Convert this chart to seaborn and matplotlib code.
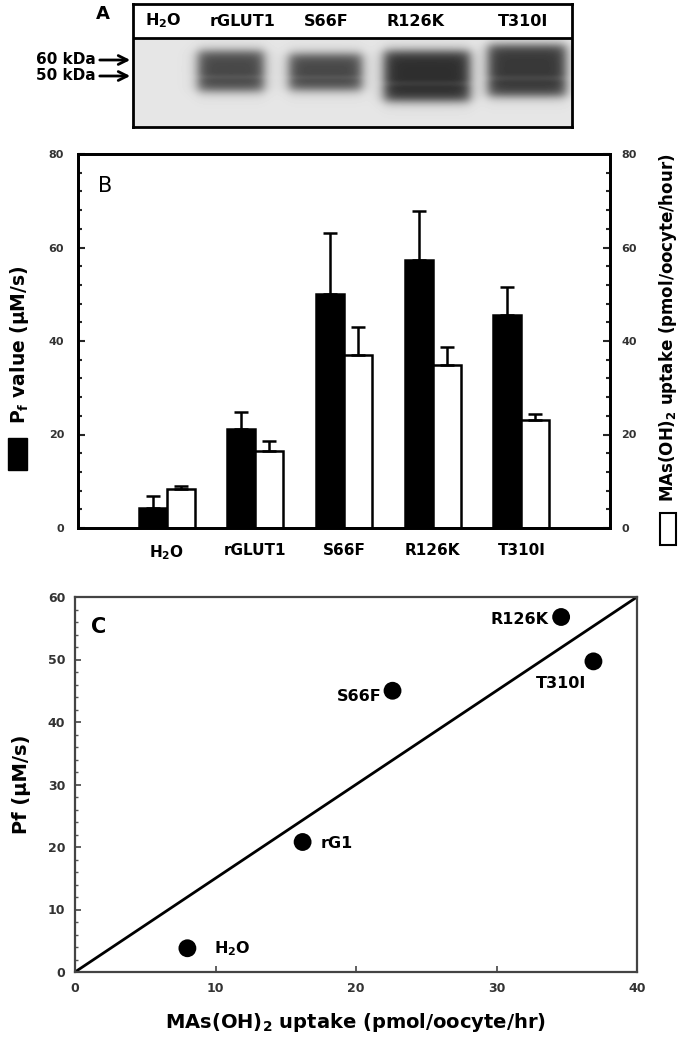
import numpy as np
import pandas as pd
import matplotlib
matplotlib.use("Agg")
import matplotlib.pyplot as plt
import seaborn as sns
from matplotlib.patches import Rectangle
from matplotlib.ticker import MultipleLocator

# constructs (panels A and B)
constructs = ["H2O", "rGLUT1", "S66F", "R126K", "T310I"]
construct_labels = [r"H$_\mathbf{2}$O", "rGLUT1", "S66F", "R126K", "T310I"]

# panel B: bar heights and top of the (upper only) error bars
pf_mean = [4.3, 21.2, 50.1, 57.3, 45.5]
pf_upper = [6.8, 24.8, 63.2, 67.9, 51.6]
uptake_mean = [8.4, 16.4, 36.9, 34.8, 23.0]
uptake_upper = [8.9, 18.6, 43.0, 38.8, 24.3]

# panel C: scatter points as labelled in the figure
c_labels = [r"H$_\mathbf{2}$O", "rG1", "S66F", "R126K", "T310I"]
c_uptake = [8.0, 16.2, 22.6, 34.6, 36.9]
c_pf = [3.8, 20.8, 45.0, 56.8, 49.7]
line_x = [0, 40]
line_y = [0, 60]

# panel A: relative band darkness per lane (H2O has none)
band_darkness = [0.0, 0.62, 0.62, 0.72, 0.68]

sns.set_theme(style="ticks")
plt.rcParams["font.family"] = ["DejaVu Sans"]
plt.rcParams["font.weight"] = "bold"
plt.rcParams["text.color"] = "black"
plt.rcParams["axes.labelcolor"] = "black"

W, H = 682, 1050
fig = plt.figure(figsize=(W / 100, H / 100), dpi=100)


def fig_box(left, top, right, bottom):
    return [left / W, 1 - bottom / H, (right - left) / W, (bottom - top) / H]


# ---------------- panel A: western blot ----------------
ax_a = fig.add_axes(fig_box(133, 4, 572, 127))
ax_a.set_xlim(133, 572)
ax_a.set_ylim(127, 4)

xs = np.arange(133, 572) + 0.5
ys = np.arange(38, 127) + 0.5
blot = np.full((len(ys), len(xs)), 0.9)


def soft_box(v, a, b, e):
    return 0.5 * (np.tanh((v - a) / e) - np.tanh((v - b) / e))


# lane geometry (x range, y range) in pixel units of the panel
band_shapes = [None, (198, 264, 51, 91), (289, 362, 54, 90), (384, 470, 51, 101), (488, 566, 45, 96)]
for shape, dark in zip(band_shapes, band_darkness):
    if shape is None:
        continue
    x0, x1, y0, y1 = shape
    bx = soft_box(xs, x0, x1, 7)
    by = soft_box(ys, y0, y1, 6)
    blot -= dark * by[:, None] * bx[None, :]
    # lighter gap between upper and lower band
    gap = soft_box(ys, y0 + 0.6 * (y1 - y0), y0 + 0.7 * (y1 - y0), 2)
    blot += 0.06 * gap[:, None] * bx[None, :]

ax_a.imshow(blot, cmap="gray", vmin=0, vmax=1, extent=(133, 572, 127, 38),
            aspect="auto", interpolation="bilinear")
ax_a.axhline(38, color="black", lw=2)
for s in ax_a.spines.values():
    s.set_linewidth(2)
    s.set_color("black")
ax_a.set_xticks([])
ax_a.set_yticks([])

lane_x = [163, 243, 326, 415, 523]
for lx, lab in zip(lane_x, construct_labels):
    ax_a.text(lx, 21, lab, ha="center", va="center", fontsize=11.5, fontweight="bold")

for yy, lab in [(60, "60 kDa"), (76, "50 kDa")]:
    ax_a.annotate("", xy=(133, yy), xytext=(97, yy), annotation_clip=False,
                  arrowprops=dict(arrowstyle="->", lw=2, color="black", mutation_scale=16))
    ax_a.text(96, yy, lab, ha="right", va="center", fontsize=11, fontweight="bold", clip_on=False)
ax_a.text(103, 14, "A", ha="center", va="center", fontsize=13, fontweight="bold", clip_on=False)

# ---------------- panel B: bars ----------------
ax_b = fig.add_axes(fig_box(78, 154, 610, 528))
df_b = pd.DataFrame({
    "construct": constructs * 2,
    "series": ["Pf"] * 5 + ["uptake"] * 5,
    "value": pf_mean + uptake_mean,
})
sns.barplot(data=df_b, x="construct", y="value", hue="series", palette=["black", "white"],
            edgecolor="black", linewidth=1.8, width=0.63, errorbar=None, legend=False,
            saturation=1, ax=ax_b)

for cont, mean, upper in zip(ax_b.containers, [pf_mean, uptake_mean], [pf_upper, uptake_upper]):
    cx = [b.get_x() + b.get_width() / 2 for b in cont]
    err = np.array(upper) - np.array(mean)
    ax_b.errorbar(cx, mean, yerr=[np.zeros(len(err)), err], fmt="none", ecolor="black",
                  elinewidth=1.8, capsize=5, capthick=1.8, zorder=1)

ax_b.set_xlim(-1, 5)
ax_b.set_ylim(0, 80)
ax_b.set_xticks(range(5))
ax_b.set_xticklabels(construct_labels, fontsize=11, fontweight="bold", color="black")
ax_b.tick_params(axis="x", length=0, pad=11)
ax_b.yaxis.set_major_locator(MultipleLocator(20))
ax_b.yaxis.set_minor_locator(MultipleLocator(4))
ax_b.tick_params(axis="y", which="major", direction="in", length=5, width=1.5, pad=10,
                 labelsize=8, labelcolor="#333333")
ax_b.tick_params(axis="y", which="minor", direction="in", length=3, width=1.5)
ax_b.set_xlabel("")
ax_b.set_ylabel("")
for s in ax_b.spines.values():
    s.set_visible(True)
    s.set_linewidth(2)
    s.set_color("black")

ax_b2 = ax_b.twinx()
ax_b2.set_ylim(0, 80)
ax_b2.yaxis.set_major_locator(MultipleLocator(20))
ax_b2.yaxis.set_minor_locator(MultipleLocator(4))
ax_b2.tick_params(axis="y", which="major", direction="in", length=5, width=1.5, pad=8,
                  labelsize=8, labelcolor="#333333")
ax_b2.tick_params(axis="y", which="minor", direction="in", length=3, width=1.5)
for s in ax_b2.spines.values():
    s.set_linewidth(2)
    s.set_color("black")
for lab in ax_b.get_yticklabels() + ax_b2.get_yticklabels():
    lab.set_fontweight("bold")

fig.text(105 / W, 1 - 186 / H, "B", ha="center", va="center", fontsize=15, fontweight="normal")

fig.text(20 / W, 1 - 345 / H, r"P$_\mathbf{f}$ value (μM/s)", rotation=90, ha="center",
         va="center", fontsize=13.5, fontweight="bold")
fig.patches.append(Rectangle((8 / W, 1 - 470 / H), 19 / W, 32 / H, transform=fig.transFigure,
                             facecolor="black", edgecolor="black", figure=fig))
fig.text(668 / W, 1 - 328 / H, r"MAs(OH)$_\mathbf{2}$ uptake (pmol/oocyte/hour)", rotation=90,
         ha="center", va="center", fontsize=12, fontweight="bold")
fig.patches.append(Rectangle((660 / W, 1 - 545 / H), 16 / W, 32 / H, transform=fig.transFigure,
                             facecolor="white", edgecolor="black", lw=1.5, figure=fig))

# ---------------- panel C: scatter ----------------
ax_c = fig.add_axes(fig_box(75, 597, 637, 972))
ax_c.plot(line_x, line_y, color="black", lw=2)
sns.scatterplot(x=c_uptake, y=c_pf, s=165, color="black", edgecolor="none", ax=ax_c, zorder=3)

label_offsets = {
    r"H$_\mathbf{2}$O": ((19, 0), "left"),
    "rG1": ((13, -1), "left"),
    "S66F": ((-8, -4), "right"),
    "R126K": ((-9, -2), "right"),
    "T310I": ((-23, -16), "center"),
}
for lab, xv, yv in zip(c_labels, c_uptake, c_pf):
    off, ha = label_offsets[lab]
    ax_c.annotate(lab, (xv, yv), xytext=off, textcoords="offset points", ha=ha, va="center",
                  fontsize=11.5, fontweight="bold")

ax_c.set_xlim(0, 40)
ax_c.set_ylim(0, 60)
ax_c.xaxis.set_major_locator(MultipleLocator(10))
ax_c.yaxis.set_major_locator(MultipleLocator(10))
ax_c.yaxis.set_minor_locator(MultipleLocator(2))
ax_c.tick_params(axis="both", which="major", direction="in", length=4, width=1.2, pad=7,
                 labelsize=9, labelcolor="#333333", color="#444444")
ax_c.tick_params(axis="y", which="minor", direction="in", length=2.5, width=1, color="#555555")
for lab in ax_c.get_xticklabels() + ax_c.get_yticklabels():
    lab.set_fontweight("bold")
for s in ax_c.spines.values():
    s.set_visible(True)
    s.set_linewidth(1.6)
    s.set_color("#444444")
ax_c.set_xlabel(r"MAs(OH)$_\mathbf{2}$ uptake (pmol/oocyte/hr)", fontsize=14, fontweight="bold",
                labelpad=12)
ax_c.set_ylabel("Pf (μM/s)", fontsize=14, fontweight="bold", labelpad=12)
ax_c.text(0.042, 0.92, "C", transform=ax_c.transAxes, ha="center", va="center", fontsize=15)

fig.savefig("out.png", dpi=100)
